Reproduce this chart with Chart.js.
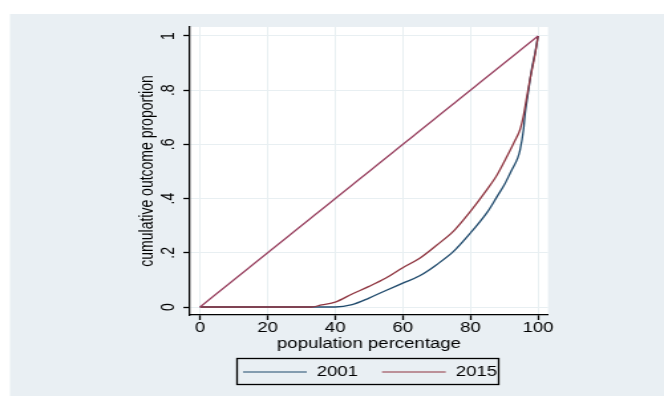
<!DOCTYPE html>
<html lang="en">
<head>
<meta charset="UTF-8">
<title>Lorenz curves 2001 / 2015</title>
<script src="https://cdn.jsdelivr.net/npm/chart.js@4.4.1/dist/chart.umd.min.js"></script>
<style>
    html, body { margin: 0; padding: 0; background: #fff; overflow: hidden; }
    #wrap { width: 664px; height: 396px; }
    /* the reference picture is stretched sideways, so draw narrow and scale */
    #mychart { transform: scaleX(1.328); transform-origin: 0 0; }
</style>
</head>
<body>
<div id="wrap"><canvas id="mychart" width="500" height="396"></canvas></div>
<script>
    // population percentage / cumulative outcome proportion
    var pop2001 = [0, 33, 40, 45, 50, 55, 60, 65, 70, 75, 80, 85, 88, 90, 92, 94, 94.7, 95.7, 96.2, 97.2, 98.1, 99.1, 100];
    var share2001 = [0, 0, 0, 0.009, 0.033, 0.061, 0.088, 0.115, 0.156, 0.205, 0.273, 0.35, 0.41, 0.45, 0.5, 0.55, 0.58, 0.653, 0.715, 0.8, 0.875, 0.936, 1];
    var pop2015 = [0, 33, 36, 40, 45, 50, 55, 60, 65, 70, 75, 80, 85, 88, 91, 93, 94.7, 95.7, 96.7, 97.6, 98.6, 99.5, 100];
    var share2015 = [0, 0, 0.008, 0.018, 0.048, 0.076, 0.107, 0.145, 0.18, 0.228, 0.28, 0.353, 0.435, 0.49, 0.56, 0.61, 0.655, 0.705, 0.776, 0.838, 0.899, 0.96, 1];
    var equalPop = [0, 100];
    var equalShare = [0, 1];
    var years = ['2001', '2015'];
    var xTicks = [0, 20, 40, 60, 80, 100];
    var yTicks = [0, 0.2, 0.4, 0.6, 0.8, 1];
    var yTickLabels = ['0', '.2', '.4', '.6', '.8', '1'];

    var navy = '#1f4a6c';
    var maroon = '#8f3540';
    var FONT = { family: "'Liberation Sans', Arial, sans-serif", size: 14 };

    function toPoints(xs, ys) {
        return xs.map(function (x, i) { return { x: x, y: ys[i] }; });
    }

    var bgPlugin = {
        id: 'stataBg',
        beforeDraw: function (chart) {
            var c = chart.ctx, a = chart.chartArea;
            c.save();
            c.fillStyle = '#ffffff';
            c.fillRect(0, 0, chart.width, chart.height);
            c.fillStyle = '#e9eff3';
            c.fillRect(7.5, 14, chart.width, chart.height);
            c.fillStyle = '#ffffff';
            c.fillRect(a.left, a.top, a.right - a.left, a.bottom - a.top);
            c.restore();
        }
    };

    // boxed legend under the x title, like stata's
    var legendPlugin = {
        id: 'boxLegend',
        afterDraw: function (chart) {
            var c = chart.ctx;
            c.save();
            c.strokeStyle = '#000';
            c.lineWidth = 1.3;
            c.strokeRect(178.5, 358.5, 197, 26);
            c.font = FONT.size + 'px ' + FONT.family;
            c.textBaseline = 'middle';
            c.fillStyle = '#000';
            var x = 183, y = 372;
            years.forEach(function (yr) {
                var ds = chart.data.datasets.find(function (d) { return d.label === yr; });
                c.strokeStyle = ds.borderColor;
                c.lineWidth = 1.2;
                c.beginPath();
                c.moveTo(x, y);
                c.lineTo(x + 48, y);
                c.stroke();
                c.fillText(yr, x + 55.5, y);
                x += 55.5 + c.measureText(yr).width + 18;
            });
            c.restore();
        }
    };

    var ctx = document.getElementById('mychart');

    var mychart = new Chart(ctx, {
        type: 'scatter',
        data: {
            datasets: [{
                label: '2001',
                data: toPoints(pop2001, share2001),
                borderColor: navy,
                borderWidth: 1.3,
                showLine: true,
                cubicInterpolationMode: 'monotone',
                pointRadius: 0,
                order: 3
            }, {
                label: '2015',
                data: toPoints(pop2015, share2015),
                borderColor: maroon,
                borderWidth: 1.3,
                showLine: true,
                cubicInterpolationMode: 'monotone',
                pointRadius: 0,
                order: 2
            }, {
                label: 'equality',
                data: toPoints(equalPop, equalShare),
                borderColor: '#963c5c',
                borderWidth: 1.2,
                showLine: true,
                pointRadius: 0,
                order: 1
            }]
        },
        options: {
            responsive: false,
            animation: false,
            devicePixelRatio: 1,
            layout: { padding: { left: 100, top: 27, right: 87.35, bottom: 41 } },
            plugins: {
                legend: { display: false },
                tooltip: { enabled: false }
            },
            scales: {
                x: {
                    type: 'linear',
                    min: -2.959,
                    max: 102.959,
                    afterBuildTicks: function (scale) {
                        scale.ticks = xTicks.map(function (v) { return { value: v }; });
                    },
                    afterFit: function (scale) { scale.height = 40; },
                    border: { color: '#000', width: 1.3 },
                    grid: { color: '#e8eff2', lineWidth: 1, tickColor: '#000', tickLength: 5, tickWidth: 1.3 },
                    ticks: { color: '#000', font: FONT, padding: 0, maxRotation: 0 },
                    title: {
                        display: true,
                        text: 'population percentage',
                        color: '#000',
                        font: FONT,
                        padding: { top: 0, bottom: 2 }
                    }
                },
                y: {
                    type: 'linear',
                    min: -0.0295,
                    max: 1.0332,
                    afterBuildTicks: function (scale) {
                        scale.ticks = yTicks.map(function (v) { return { value: v }; });
                    },
                    afterFit: function (scale) { scale.width = 43.07; },
                    border: { color: '#000', width: 1.3 },
                    grid: { color: '#e8eff2', lineWidth: 1, tickColor: '#000', tickLength: 5, tickWidth: 1.3 },
                    ticks: {
                        color: '#000',
                        font: FONT,
                        padding: 5,
                        minRotation: 90,
                        maxRotation: 90,
                        crossAlign: 'center',
                        callback: function (value, index) { return yTickLabels[index]; }
                    },
                    title: {
                        display: true,
                        text: 'cumulative outcome proportion',
                        color: '#000',
                        font: FONT,
                        padding: { top: 3, bottom: 0 }
                    }
                }
            }
        },
        plugins: [bgPlugin, legendPlugin]
    });
</script>
</body>
</html>
